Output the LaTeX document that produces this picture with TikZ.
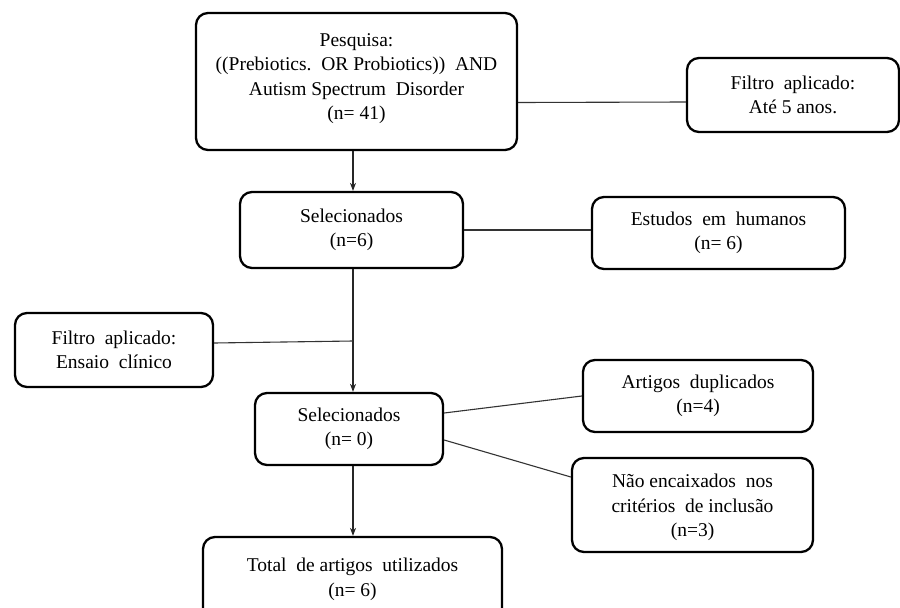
\documentclass[tikz,border=0pt]{standalone}
\usepackage{fontspec}
\setmainfont{Liberation Serif}
\usetikzlibrary{arrows.meta}
\begin{document}
\begin{tikzpicture}[x=1pt,y=-1pt,
  box/.style={draw=black, line width=2.3pt, rounded corners=12pt, fill=white,
    align=center, inner sep=0pt, font=\fontsize{19.5}{24.5}\selectfont},
  link/.style={draw=black!80, line width=1.1pt},
  arr/.style={draw=black!85, line width=1.1pt, -{Stealth[length=8pt,width=6pt]}}]
\useasboundingbox (0,0) rectangle (900,608);
\fill[white] (0,0) rectangle (900,608);
% nodes
\node[box, minimum width=321pt, minimum height=137pt] (P) at (356.5,81.5)
  {Pesquisa:\\((Prebiotics.\ \ OR Probiotics))\ \ AND\\Autism\ Spectrum\ \ Disorder\\(n= 41)\rule[-10pt]{0pt}{0pt}};
\node[box, minimum width=212pt, minimum height=74pt] (F1) at (793,95)
  {\rule{0pt}{12pt}Filtro\ \ aplicado:\\Até 5 anos.};
\node[box, minimum width=223pt, minimum height=76pt] (S1) at (351.5,230)
  {Selecionados\\(n=6)};
\node[box, minimum width=253pt, minimum height=72pt] (E) at (718.5,233)
  {Estudos\ \ em\ \ humanos\\(n= 6)};
\node[box, minimum width=198pt, minimum height=74pt] (F2) at (114,350)
  {Filtro\ \ aplicado:\\Ensaio\ \ clínico};
\node[box, minimum width=188pt, minimum height=72pt] (S2) at (349,429)
  {Selecionados\\(n= 0)};
\node[box, minimum width=230pt, minimum height=72pt] (A) at (698,396)
  {Artigos\ \ duplicados\\(n=4)};
\node[box, minimum width=241pt, minimum height=94pt] (N) at (692.5,505)
  {\rule{0pt}{19pt}Não encaixados\ \ nos\\critérios\ \ de inclusão\\(n=3)};
\node[box, minimum width=299pt, minimum height=85pt] (T) at (352.5,579.5)
  {Total\ \ de artigos\ \ utilizados\\(n= 6)};
% helper coordinates
\coordinate (j) at (353,341);
% connectors
\draw[link] ([yshift=-21pt]P.east) -- ([yshift=-7pt]F1.west);
\draw[arr] (P.south -| j) -- (S1.north -| j);
\draw[link] (S1.east) -- (S1.east -| E.west);
\draw[arr] (S1.south -| j) -- (S2.north -| j);
\draw[link] ([yshift=7pt]F2.east) -- (j);
\draw[link] ([yshift=16pt]S2.east) -- (A.west);
\draw[link] ([yshift=-11pt]S2.east) -- ([yshift=28pt]N.west);
\draw[arr] (S2.south -| j) -- (T.north -| j);
\end{tikzpicture}
\end{document}
